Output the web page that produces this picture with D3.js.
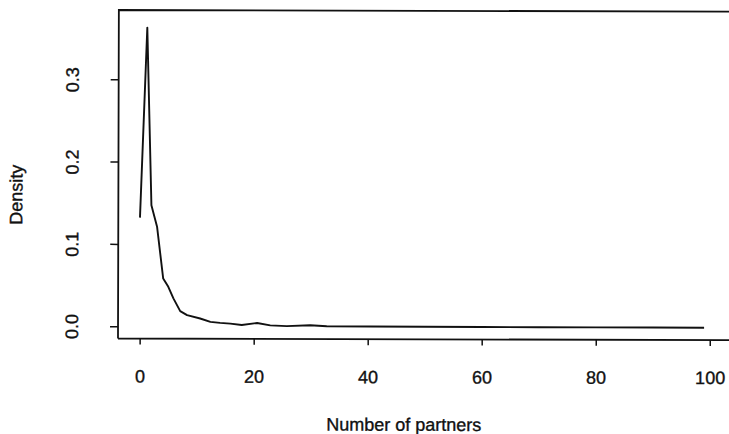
<!DOCTYPE html>
<html>
<head>
<meta charset="utf-8">
<script src="https://cdn.jsdelivr.net/npm/d3@7/dist/d3.min.js"></script>
<style>
  html, body { margin: 0; padding: 0; background: #fff; }
  svg { display: block; }
  text { font-family: "Liberation Sans", Arial, Helvetica, sans-serif; fill: #111; stroke: #111; stroke-width: 0.35px; }
</style>
</head>
<body>
<svg id="chart" width="729" height="434"></svg>
<script>
// Estimated density of the number of sexual partners
const partners = [0, 1.2, 2, 3, 4.1, 5, 5.9, 7.1, 8.3, 10.6, 12.4, 14.1, 15.9, 17.9, 20.6, 22.9, 25.8, 29.9, 32.8, 40.4, 50, 60, 70, 80, 90, 99];
const density  = [0.132, 0.363, 0.147, 0.121, 0.058, 0.048, 0.034, 0.0185, 0.0136, 0.0096, 0.0055, 0.0043, 0.0035, 0.0018, 0.0043, 0.0015, 0.0006, 0.0018, 0.0006, 0.0003, 0.0002, 0.0001, 0.0001, 0.0, 0.0, 0.0];
const xTicks = [0, 20, 40, 60, 80, 100];
const yTicks = [0.0, 0.1, 0.2, 0.3];
const xTitle = "Number of partners";
const yTitle = "Density";

const svg = d3.select("#chart");
const ink = "#111";

// plot frame
const frame = { left: 118, top: 10, bottom: 338.5, right: 728 };

const x = d3.scaleLinear().domain([-3.8, 103.2]).range([frame.left, frame.right]);
const y = d3.scaleLinear().domain([-0.0150, 0.3843]).range([frame.bottom, frame.top]);

const g = svg.append("g").attr("transform", `rotate(0.15, ${frame.left}, ${frame.bottom})`);

// box (right side runs off the page)
g.append("path")
  .attr("d", `M${frame.left},${frame.bottom} L${frame.left},${frame.top} L${frame.right + 20},${frame.top} M${frame.left},${frame.bottom} L${frame.right + 20},${frame.bottom}`)
  .attr("fill", "none")
  .attr("stroke", ink)
  .attr("stroke-width", 1.8);

// x axis
const xAxis = g.append("g")
  .attr("transform", `translate(0,${frame.bottom})`)
  .call(d3.axisBottom(x).tickValues(xTicks).tickSize(6).tickFormat(d3.format("d")));
xAxis.select(".domain").remove();
xAxis.selectAll(".tick line").attr("stroke", ink).attr("stroke-width", 1.5);
xAxis.selectAll(".tick text")
  .attr("y", 44).attr("dy", null)
  .style("font-size", "18px")
  .attr("fill", ink);

// y axis with rotated labels
const yAxis = g.append("g")
  .attr("transform", `translate(${frame.left},0)`)
  .call(d3.axisLeft(y).tickValues(yTicks).tickSize(8).tickFormat(d3.format(".1f")));
yAxis.select(".domain").remove();
yAxis.selectAll(".tick line").attr("stroke", ink).attr("stroke-width", 1.5);
yAxis.selectAll(".tick text")
  .attr("x", null).attr("dy", null)
  .attr("transform", "translate(-40,0) rotate(-90)")
  .attr("text-anchor", "middle")
  .style("font-size", "18px")
  .attr("fill", ink);

// density curve
const line = d3.line()
  .x((d, i) => x(partners[i]))
  .y(d => y(d));

g.append("path")
  .datum(density)
  .attr("d", line)
  .attr("fill", "none")
  .attr("stroke", ink)
  .attr("stroke-width", 1.9)
  .attr("stroke-linejoin", "round");

// axis titles
g.append("text")
  .attr("x", 404).attr("y", 430)
  .attr("text-anchor", "middle")
  .style("font-size", "18px")
  .text(xTitle);

g.append("text")
  .attr("transform", "translate(22,195) rotate(-90)")
  .attr("text-anchor", "middle")
  .style("font-size", "18px")
  .text(yTitle);
</script>
</body>
</html>
